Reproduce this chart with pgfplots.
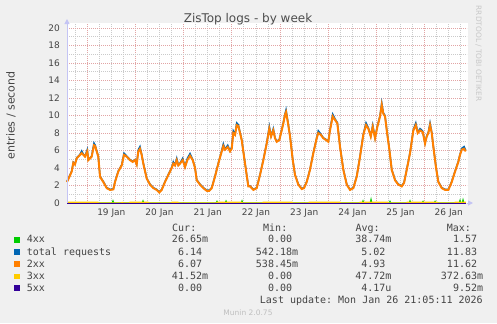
\documentclass[border=0pt]{standalone}
\usepackage{fontspec}
\setmainfont{DejaVu Sans}
\setmonofont{DejaVu Sans Mono}
\usepackage{pgfplots}
\pgfplotsset{compat=1.18}
\usepackage{pgfplotstable}
\usetikzlibrary{arrows.meta}
\definecolor{bg}{HTML}{F0F0F0}
\definecolor{c4xx}{HTML}{00CC00}
\definecolor{ctot}{HTML}{0066B3}
\definecolor{c2xx}{HTML}{FF8000}
\definecolor{c3xx}{HTML}{FFCC00}
\definecolor{c5xx}{HTML}{330099}
\definecolor{mgrid}{HTML}{E2A4A4}
\definecolor{ngrid}{HTML}{CACACA}
\definecolor{axcol}{HTML}{C4C4F4}
\definecolor{txt}{HTML}{444444}

\pgfplotstableread{
d tot ok
18.58 2.46 2.4
18.63 3.06 3.0
18.678 3.66 3.6
18.711 4.66 4.6
18.745 4.46 4.4
18.781 5.16 5.1
18.850 5.56 5.5
18.885 5.95 5.7
18.92 5.56 5.5
18.953 5.36 5.3
19.001 6.1 5.9
19.022 4.96 4.9
19.06 5.16 5.1
19.092 5.36 5.3
19.140 6.85 6.6
19.165 6.6 6.5
19.196 5.96 5.9
19.229 5.36 5.3
19.265 3.06 3.0
19.333 2.46 2.4
19.404 1.76 1.7
19.472 1.56 1.5
19.541 1.61 1.55
19.576 2.46 2.4
19.644 3.66 3.6
19.715 4.36 4.3
19.763 5.7 5.5
19.819 5.36 5.3
19.887 4.96 4.9
19.943 4.76 4.7
19.991 4.96 4.9
20.026 4.46 4.4
20.059 6.1 5.9
20.094 6.45 6.2
20.129 5.56 5.5
20.163 4.56 4.5
20.233 2.86 2.8
20.302 2.16 2.1
20.370 1.76 1.7
20.441 1.56 1.5
20.495 1.26 1.2
20.545 1.56 1.5
20.613 2.46 2.4
20.682 3.26 3.2
20.752 4.06 4.0
20.785 4.7 4.5
20.821 4.36 4.3
20.856 5.1 4.9
20.889 4.36 4.3
20.924 4.56 4.5
20.980 5.1 4.9
21.028 4.16 4.1
21.076 5.1 4.9
21.132 5.65 5.4
21.188 4.96 4.9
21.236 4.06 4.0
21.271 2.66 2.6
21.339 2.16 2.1
21.408 1.76 1.7
21.478 1.46 1.4
21.532 1.46 1.4
21.582 1.76 1.7
21.650 3.06 3.0
21.719 4.56 4.5
21.769 5.56 5.5
21.823 6.75 6.5
21.858 6.16 6.1
21.914 6.6 6.4
21.962 5.96 5.9
21.997 6.4 6.2
22.030 8.25 8.0
22.066 7.86 7.8
22.101 9.15 8.9
22.134 8.95 8.8
22.204 7.26 7.2
22.273 4.56 4.5
22.341 1.96 1.9
22.377 1.96 1.9
22.445 1.56 1.5
22.516 1.76 1.7
22.584 3.26 3.2
22.653 4.96 4.9
22.723 6.86 6.8
22.777 8.75 8.5
22.813 7.66 7.6
22.860 8.5 8.3
22.895 7.46 7.4
22.931 7.06 7.0
22.985 7.26 7.2
23.034 8.4 8.3
23.068 9.2 9.1
23.103 10.2 10.1
23.124 10.65 10.4
23.159 9.4 9.3
23.207 7.66 7.6
23.263 4.96 4.9
23.310 3.26 3.2
23.379 2.16 2.1
23.449 1.66 1.6
23.497 1.76 1.7
23.553 2.46 2.4
23.621 3.86 3.8
23.690 5.76 5.7
23.760 7.46 7.4
23.793 8.25 8.0
23.843 7.9 7.8
23.897 7.46 7.4
23.954 7.26 7.2
24.001 7.06 7.0
24.036 8.4 8.3
24.092 10.15 9.9
24.140 9.6 9.5
24.188 9.2 9.1
24.244 6.46 6.4
24.312 3.86 3.8
24.383 2.16 2.1
24.451 1.56 1.5
24.520 1.76 1.7
24.590 3.06 3.0
24.659 5.36 5.3
24.727 7.9 7.8
24.783 9.15 8.9
24.831 8.6 8.5
24.881 7.66 7.6
24.922 8.9 8.7
24.970 7.46 7.4
25.018 8.8 8.7
25.074 10.0 9.9
25.109 11.45 11.2
25.142 10.3 10.2
25.177 10.0 9.9
25.213 8.4 8.3
25.267 6.16 6.1
25.316 3.86 3.8
25.385 2.66 2.6
25.453 2.16 2.1
25.524 1.96 1.9
25.572 2.36 2.3
25.628 3.86 3.8
25.696 5.76 5.7
25.765 8.4 8.3
25.815 9.15 8.9
25.856 8.1 8.0
25.904 8.5 8.3
25.960 8.2 8.1
26.007 6.86 6.8
26.043 7.7 7.6
26.076 8.1 8.0
26.111 9.15 8.9
26.146 8.1 8.0
26.180 6.46 6.4
26.236 4.06 4.0
26.283 2.46 2.4
26.354 1.76 1.7
26.422 1.56 1.5
26.491 1.56 1.5
26.561 2.46 2.4
26.630 3.66 3.6
26.698 4.76 4.7
26.733 5.56 5.5
26.769 6.25 6.1
26.817 6.45 6.2
26.852 6.0 5.9
}\req

\tikzset{img/.style={x=1bp,y=-1bp}}

\begin{document}
\begin{tikzpicture}
\begin{scope}[img]
\path[use as bounding box] (0,0) rectangle (497,323);
\fill[bg] (0,0) rectangle (497,323);
\fill[white] (67,23) rectangle (468,203);
\end{scope}

\begin{axis}[
  at={(67bp,-203bp)}, anchor=south west,
  scale only axis, width=400bp, height=179bp,
  xmin=18.58, xmax=26.878, ymin=0, ymax=20.457,
  axis line style={draw=none},
  clip=false,
  xtick={19,...,26}, xticklabels={},
  minor xtick={18.75,19,...,26.75},
  ytick={0,2,...,20}, minor ytick={1,3,...,19},
  grid=both,
  major grid style={mgrid, dash pattern=on 1bp off 1bp, line width=0.9bp},
  minor grid style={ngrid, dash pattern=on 1bp off 1bp, line width=0.9bp},
  major tick length=0pt, minor tick length=0pt,
  extra x ticks={19.5,20.5,...,26.5},
  extra x tick labels={19 Jan,20 Jan,21 Jan,22 Jan,23 Jan,24 Jan,25 Jan,26 Jan},
  extra x tick style={grid=none},
  /pgf/number format/assume math mode=true,
  tick label style={font=\fontsize{9bp}{11bp}\selectfont, text=txt},
  yticklabel style={inner sep=0pt, xshift=-7bp},
  xticklabel style={inner sep=0pt, yshift=-5.5bp},
]
\addplot[c4xx, line width=1.4bp] coordinates {(18.58,0) (19.52,0) (19.534,0.2) (19.548,0) (20.143,0) (20.157,0.2) (20.171,0) (21.678,0) (21.692,0.15) (21.706,0) (21.865,0) (21.879,0.18) (21.893,0) (22.197,0) (22.211,0.2) (22.225,0) (24.707,0) (24.721,0.2) (24.735,0) (24.873,0) (24.887,0.35) (24.901,0) (25.267,0) (25.281,0.15) (25.295,0) (25.682,0) (25.696,0.2) (25.71,0) (25.952,0) (25.966,0.15) (25.98,0) (26.201,0) (26.215,0.15) (26.229,0) (26.719,0) (26.733,0.25) (26.747,0) (26.781,0) (26.795,0.3) (26.809,0) (26.852,0)};
\addplot[ctot, line width=1.5bp] table[x=d,y=tot]{\req};
\addplot[c2xx, line width=2bp] table[x=d,y=ok]{\req};
\addplot[c3xx, line width=1.2bp] coordinates {(18.58,0.08) (19.223,0.08) (19.23,0) (19.715,0) (19.72,0.06) (19.74,0.06) (19.745,0) (19.88,0) (19.887,0.08) (20.26,0.08) (20.267,0) (20.75,0) (20.758,0.08) (20.883,0.08) (20.89,0) (21.685,0) (21.692,0.08) (22.211,0.08) (22.218,0) (22.64,0) (22.647,0.08) (23.249,0.08) (23.256,0) (23.595,0) (23.602,0.08) (24.245,0.08) (24.252,0) (24.652,0) (24.659,0.08) (25.240,0.08) (25.247,0) (25.627,0) (25.634,0.08) (26.257,0.08) (26.264,0) (26.623,0) (26.630,0.08) (26.852,0.08)};
\addplot[c5xx, line width=0.8bp] coordinates {(18.58,0) (26.852,0)};
\end{axis}

\begin{scope}[img]
\draw[axcol, line width=1bp, -{Triangle[length=5bp,width=5bp]}] (67,203) -- (67,19);
\draw[axcol, line width=1bp, -{Triangle[length=5bp,width=5bp]}] (466.5,203) -- (473,203);
\node[anchor=base, text=black!70, font=\fontsize{12bp}{14bp}\selectfont, inner sep=0pt] at (248,22.7) {ZisTop logs - by week};
\node[rotate=90, text=txt, font=\fontsize{11bp}{13bp}\selectfont, inner sep=0pt] at (11,115.5) {entries / second};
\node[rotate=-90, text=black!22, font=\fontsize{7.4bp}{9bp}\selectfont, inner sep=0pt] at (478.5,53.5) {RRDTOOL / TOBI OETIKER};
\begin{scope}[every node/.style={inner sep=0pt, text=txt, font=\ttfamily\fontsize{10bp}{12bp}\selectfont}]
\node[anchor=base west] at (172,231.7) {Cur:};
\node[anchor=base west] at (263,231.7) {Min:};
\node[anchor=base west] at (355.3,231.7) {Avg:};
\node[anchor=base west] at (446.7,231.7) {Max:};
% rows
\fill[c4xx] (14,237) rectangle (19.5,242.5);
\node[anchor=base west] at (26.7,242.7) {4xx};
\node[anchor=base east] at (208.3,242.7) {26.65m};
\node[anchor=base east] at (298.3,242.7) {0.00\hphantom{m}};
\node[anchor=base east] at (391.7,242.7) {38.74m};
\node[anchor=base east] at (483.3,242.7) {1.57\hphantom{m}};
\fill[ctot] (14,249.4) rectangle (19.5,254.9);
\node[anchor=base west] at (26.7,255.1) {total requests};
\node[anchor=base east] at (208.3,255.1) {6.14\hphantom{m}};
\node[anchor=base east] at (298.3,255.1) {542.18m};
\node[anchor=base east] at (391.7,255.1) {5.02\hphantom{m}};
\node[anchor=base east] at (483.3,255.1) {11.83\hphantom{m}};
\fill[c2xx] (14,261.4) rectangle (19.5,266.9);
\node[anchor=base west] at (26.7,267.1) {2xx};
\node[anchor=base east] at (208.3,267.1) {6.07\hphantom{m}};
\node[anchor=base east] at (298.3,267.1) {538.45m};
\node[anchor=base east] at (391.7,267.1) {4.93\hphantom{m}};
\node[anchor=base east] at (483.3,267.1) {11.62\hphantom{m}};
\fill[c3xx] (14,273.7) rectangle (19.5,279.2);
\node[anchor=base west] at (26.7,279.4) {3xx};
\node[anchor=base east] at (208.3,279.4) {41.52m};
\node[anchor=base east] at (298.3,279.4) {0.00\hphantom{m}};
\node[anchor=base east] at (391.7,279.4) {47.72m};
\node[anchor=base east] at (483.3,279.4) {372.63m};
\fill[c5xx] (14,285.4) rectangle (19.5,290.9);
\node[anchor=base west] at (26.7,291.1) {5xx};
\node[anchor=base east] at (208.3,291.1) {0.00\hphantom{m}};
\node[anchor=base east] at (298.3,291.1) {0.00\hphantom{m}};
\node[anchor=base east] at (391.7,291.1) {4.17u};
\node[anchor=base east] at (483.3,291.1) {9.52m};
\node[anchor=base east] at (482.9,303.1) {Last update: Mon Jan 26 21:05:11 2026};
\end{scope}
\node[anchor=base, inner sep=0pt, text=black!25, font=\fontsize{7.5bp}{9bp}\selectfont] at (248,315.5) {Munin 2.0.75};
\end{scope}
\end{tikzpicture}
\end{document}
